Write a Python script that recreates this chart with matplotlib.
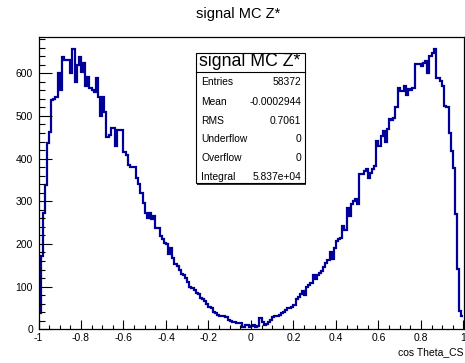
import numpy as np
import matplotlib
matplotlib.use("Agg")
import matplotlib.pyplot as plt
from matplotlib.patches import Rectangle
from matplotlib.lines import Line2D

plt.rcParams["font.family"] = ["Liberation Sans", "DejaVu Sans"]

# histogram of cos Theta_CS, 200 bins from -1 to 1
counts = [
    39, 172, 273, 338, 436, 463, 537, 539, 545, 600,
    561, 639, 631, 631, 631, 600, 657, 580, 620, 639,
    604, 624, 569, 592, 565, 560, 556, 589, 545, 500,
    545, 510, 451, 455, 472, 472, 430, 467, 467, 467,
    416, 408, 385, 381, 381, 381, 355, 340, 320, 297,
    273, 262, 273, 258, 266, 238, 238, 219, 211, 203,
    199, 176, 190, 168, 152, 148, 140, 129, 127, 121,
    110, 98, 96, 92, 86, 82, 74, 70, 66, 60,
    53, 50, 41, 38, 34, 30, 30, 30, 28, 22,
    20, 18, 18, 14, 14, 14, 6, 10, 10, 6,
    8, 10, 6, 8, 26, 18, 10, 12, 18, 22,
    28, 30, 32, 34, 38, 41, 45, 49, 50, 52,
    56, 70, 76, 82, 90, 80, 98, 104, 109, 127,
    117, 127, 133, 137, 147, 156, 162, 180, 164, 191,
    207, 212, 215, 242, 232, 285, 266, 293, 300, 305,
    293, 363, 363, 370, 375, 355, 367, 375, 383, 441,
    430, 453, 465, 440, 469, 492, 490, 496, 520, 566,
    559, 559, 570, 550, 562, 560, 566, 621, 621, 621,
    617, 625, 629, 600, 640, 648, 656, 590, 590, 582,
    570, 523, 520, 461, 418, 379, 270, 141, 43, 31,
]
x_low, x_high = -1.0, 1.0

x_ticks = [-1, -0.8, -0.6, -0.4, -0.2, 0, 0.2, 0.4, 0.6, 0.8, 1]
x_tick_labels = ["-1", "-0.8", "-0.6", "-0.4", "-0.2", "0", "0.2", "0.4", "0.6", "0.8", "1"]
y_ticks = [0, 100, 200, 300, 400, 500, 600]

title = "signal MC Z*"
x_label = "cos Theta_CS"

stat_names = ["Entries", "Mean", "RMS", "Underflow", "Overflow", "Integral"]
stat_values = ["58372", "-0.0002944", "0.7061", "0", "0", "5.837e+04"]

W, H = 465, 363
fig = plt.figure(figsize=(W / 100, H / 100), dpi=100)

def fx(px):
    return px / W

def fy(py):
    return 1 - py / H

ax = fig.add_axes([fx(38.5), fy(329.3), fx(463.5) - fx(38.5), fy(37) - fy(329.3)])

edges = np.linspace(x_low, x_high, len(counts) + 1)
ax.stairs(counts, edges, baseline=None, color="#000099", linewidth=1.6)

ax.set_xlim(x_low, x_high)
ax.set_ylim(0, 685)

ax.set_xticks(x_ticks)
ax.set_xticklabels(x_tick_labels)
ax.set_xticks(np.arange(-1, 1.001, 0.05), minor=True)
ax.set_yticks(y_ticks)
ax.set_yticklabels([str(v) for v in y_ticks])
ax.set_yticks(np.arange(0, 681, 20), minor=True)

ax.tick_params(axis="both", which="both", direction="in", labelsize=7.5,
               top=False, right=False, width=0.8, color="black")
ax.tick_params(axis="x", which="major", length=6.3, pad=3)
ax.tick_params(axis="x", which="minor", length=3.2)
ax.tick_params(axis="y", which="major", length=9.2, pad=4)
ax.tick_params(axis="y", which="minor", length=4.6)
for sp in ax.spines.values():
    sp.set_linewidth(0.9)

fig.text(fx(238), fy(14), title, ha="center", va="center", fontsize=10.5)
fig.text(fx(463), fy(352), x_label, ha="right", va="center", fontsize=7.5)

# stats box
bx0, bx1, by0, by1 = 196, 304.5, 52.7, 183.3
fig.patches.append(Rectangle((fx(bx0) + fx(1.2), fy(by1) - 1.2 / H), fx(bx1) - fx(bx0), fy(by0) - fy(by1),
                             transform=fig.transFigure, facecolor="#333333", edgecolor="none", zorder=5))
fig.patches.append(Rectangle((fx(bx0), fy(by1)), fx(bx1) - fx(bx0), fy(by0) - fy(by1),
                             transform=fig.transFigure, facecolor="white", edgecolor="black",
                             linewidth=0.8, zorder=6))
fig.lines.append(Line2D([fx(bx0), fx(bx1)], [fy(71.7), fy(71.7)], transform=fig.transFigure,
                        color="black", linewidth=0.8, zorder=7))
fig.text(fx(250), fy(62), title, ha="center", va="center", fontsize=12.8, zorder=8)

row_y = [81.7, 101.7, 121, 139.5, 158, 176.7]
for name, val, ry in zip(stat_names, stat_values, row_y):
    fig.text(fx(201), fy(ry), name, ha="left", va="center", fontsize=7.4, zorder=8)
    fig.text(fx(301), fy(ry), val, ha="right", va="center", fontsize=7.4, zorder=8)

fig.savefig("out.png", dpi=100)
